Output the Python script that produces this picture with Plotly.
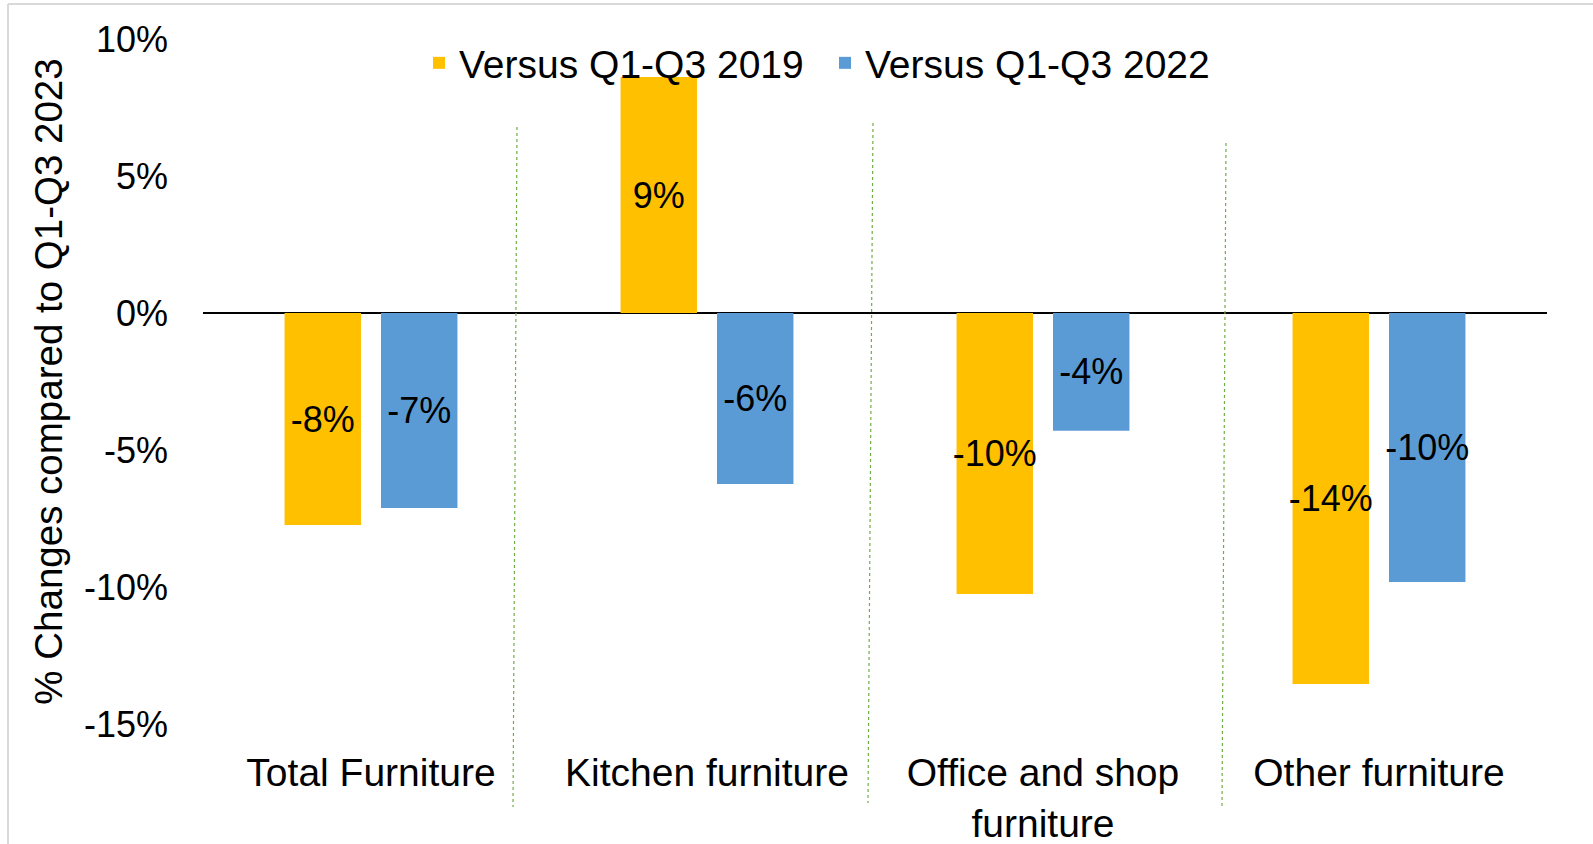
import plotly.graph_objects as go

# ---- data ----
categories = ["Total Furniture", "Kitchen furniture", "Office and shop<br>furniture", "Other furniture"]
series_names = ["Versus Q1-Q3 2019", "Versus Q1-Q3 2022"]
vs_2019 = [-7.74, 8.61, -10.26, -13.54]
vs_2022 = [-7.12, -6.24, -4.30, -9.82]
tick_vals = [-15, -10, -5, 0, 5, 10]
tick_text = ["-15%", "-10%", "-5%", "0%", "5%", "10%"]
y_title = "% Changes compared to Q1-Q3 2023"

colors = ["#FFC000", "#5B9BD5"]
FONT = "Liberation Sans, Arial, sans-serif"


def labels(vals):
    return [f"{v:.0f}%" for v in vals]


W, H = 1593, 844
ml, mr, mt, mb = 203, 46, 39, 120
pw, ph = W - ml - mr, H - mt - mb


def px_x(x):
    return (x - ml) / pw


def px_y(y):
    return (H - mb - y) / ph


fig = go.Figure()
legend_ids = ["legend", "legend2"]
for name, vals, col, lg in zip(series_names, [vs_2019, vs_2022], colors, legend_ids):
    fig.add_trace(go.Bar(
        x=categories, y=vals, name=name, legend=lg,
        marker=dict(color=col, line=dict(width=0)),
        text=labels(vals), textposition="inside", insidetextanchor="middle",
        textangle=0, constraintext="none",
        textfont=dict(family=FONT, size=36, color="black"),
        hoverinfo="skip",
    ))

shapes = []
# dotted green dividers between category groups
for (xt, yt), (xb, yb) in [((517, 127), (513, 807)), ((873, 123), (868, 803)), ((1226, 143), (1222, 806))]:
    shapes.append(dict(type="line", xref="paper", yref="paper",
                       x0=px_x(xt), y0=px_y(yt), x1=px_x(xb), y1=px_y(yb),
                       line=dict(color="#70AD47", width=1.2, dash="dot"), layer="above"))
# light outer frame (top and left)
shapes.append(dict(type="line", xref="paper", yref="paper",
                   x0=px_x(8), y0=px_y(4), x1=px_x(W + 5), y1=px_y(4),
                   line=dict(color="#D9D9D9", width=2)))
shapes.append(dict(type="line", xref="paper", yref="paper",
                   x0=px_x(8), y0=px_y(4), x1=px_x(8), y1=px_y(H + 5),
                   line=dict(color="#D9D9D9", width=2)))

legend_style = dict(orientation="h", yanchor="middle", y=px_y(63), xanchor="left",
                    font=dict(family=FONT, size=39, color="black"),
                    bgcolor="rgba(0,0,0,0)", itemclick=False, borderwidth=0)

fig.update_layout(
    width=W, height=H,
    margin=dict(l=ml, r=mr, t=mt, b=mb, autoexpand=False),
    paper_bgcolor="white", plot_bgcolor="white",
    font=dict(family=FONT, size=37, color="black"),
    barmode="group", bargap=0.426, bargroupgap=0.207,
    showlegend=True,
    legend=dict(legend_style, x=px_x(419)),
    legend2=dict(legend_style, x=px_x(825)),
    xaxis=dict(showline=False, showgrid=False, ticks="", zeroline=False,
               tickfont=dict(family=FONT, size=39, color="black"),
               ticklabelstandoff=22, automargin=False),
    yaxis=dict(range=[-15, 10], tickvals=tick_vals, ticktext=tick_text,
               showgrid=False, showline=False, ticks="",
               zeroline=True, zerolinecolor="black", zerolinewidth=2,
               tickfont=dict(family=FONT, size=36, color="black"),
               ticklabelstandoff=34, automargin=False,
               title=dict(text=y_title, font=dict(family=FONT, size=38.5, color="black"),
                          standoff=9)),
    shapes=shapes,
)

fig.write_html("out.html", config={"displayModeBar": False},
               post_script="document.body.style.margin='0px';")
